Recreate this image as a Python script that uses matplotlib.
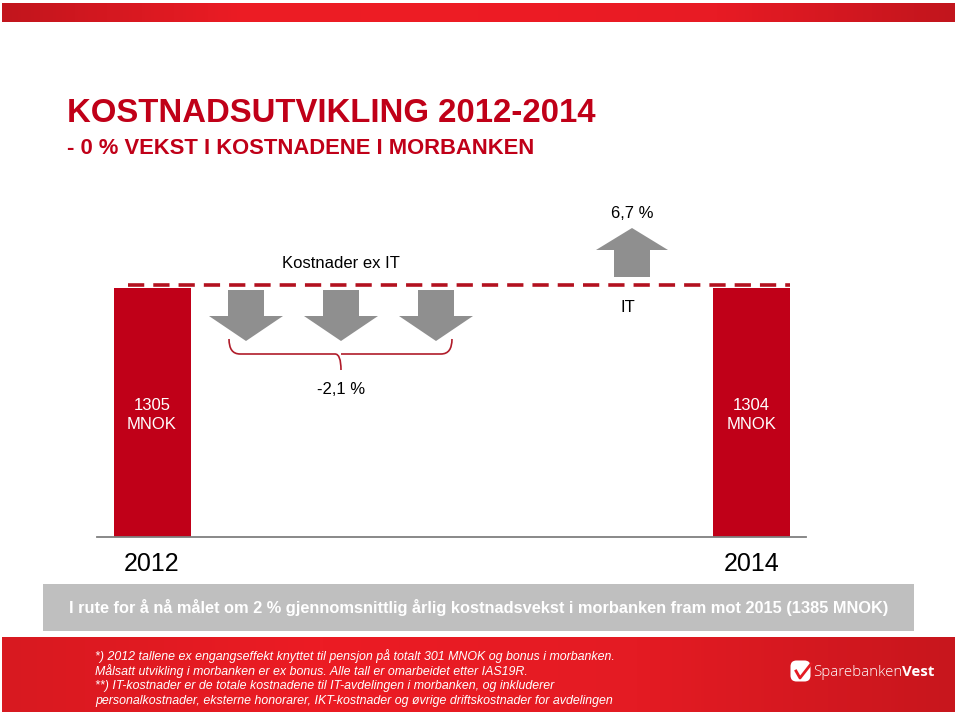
import numpy as np
import matplotlib
matplotlib.use("Agg")
import matplotlib.pyplot as plt
from matplotlib.colors import LinearSegmentedColormap
from matplotlib.patches import Rectangle, Polygon, FancyBboxPatch, PathPatch
from matplotlib.path import Path

# data
years = ["2012", "2014"]
kostnader = [1305, 1304]
endring_ex_it = "-2,1 %"
endring_it = "6,7 %"

tittel = "KOSTNADSUTVIKLING 2012-2014"
undertittel = "- 0 % VEKST I KOSTNADENE I MORBANKEN"
boks_tekst = "I rute for å nå målet om 2 % gjennomsnittlig årlig kostnadsvekst i morbanken fram mot 2015 (1385 MNOK)"
fotnoter = [
    "*) 2012 tallene ex engangseffekt knyttet til pensjon på totalt 301 MNOK og bonus i morbanken.",
    "Målsatt utvikling i morbanken er ex bonus. Alle tall er omarbeidet etter IAS19R.",
    "**) IT-kostnader er de totale kostnadene til IT-avdelingen i morbanken, og inkluderer",
    "personalkostnader, eksterne honorarer, IKT-kostnader og øvrige driftskostnader for avdelingen",
]

rod = "#c00018"
gra = "#8f8f8f"
plt.rcParams["font.family"] = ["Liberation Sans", "DejaVu Sans"]

W, H = 960, 712
fig = plt.figure(figsize=(W / 100, H / 100), dpi=100)
fig.patch.set_facecolor("white")

# stolpeakse
x0, x1, ybase, ytop = 97, 806, 537, 200
ax = fig.add_axes([x0 / W, (H - ybase) / H, (x1 - x0) / W, (ybase - ytop) / H])
ax.set_facecolor("none")
pos = np.arange(len(years))
ax.bar(pos, kostnader, width=77 / 599.5, color=rod)
ax.set_xlim(-55 / 599.5, (x1 - x0 - 55) / 599.5)
ax.set_ylim(0, kostnader[0] * (ybase - ytop) / (ybase - 288))
for s in ["top", "left", "right"]:
    ax.spines[s].set_visible(False)
ax.spines["bottom"].set_color("#7f7f7f")
ax.spines["bottom"].set_linewidth(1.3)
ax.set_yticks([])
ax.set_xticks(pos, years)
ax.tick_params(axis="x", length=0, pad=11, labelsize=18)
for i, v in enumerate(kostnader):
    ax.text(i, v * 0.49, f"{v}\nMNOK", ha="center", va="center", color="white",
            fontsize=12, linespacing=1.4)

# overlay i piksler
ov = fig.add_axes([0, 0, 1, 1], zorder=3)
ov.set_facecolor("none")
ov.set_xlim(0, W)
ov.set_ylim(H, 0)
ov.axis("off")

grad = LinearSegmentedColormap.from_list("g", ["#c2151d", "#ec1c24", "#ee1c25", "#e81b24", "#c2151d"])
g = np.linspace(0, 1, 300).reshape(1, -1)
ov.imshow(g, cmap=grad, extent=[2, 955, 22, 3], aspect="auto")
grad2 = LinearSegmentedColormap.from_list("g2", ["#d81920", "#ec1c24", "#e41b23", "#c8161d"])
ov.imshow(g, cmap=grad2, extent=[2, 955, 712, 637], aspect="auto")

ov.text(67, 113, tittel, color=rod, fontsize=23.7, fontweight="bold", va="center")
ov.text(67, 148, undertittel, color=rod, fontsize=15.8, fontweight="bold", va="center")

# stiplet linje
ov.plot([128, 790], [285, 285], color="#b3111f", lw=2.6, dashes=(4.5, 2.5))

# piler ned
for cx in [246, 341, 436]:
    ov.add_patch(Polygon([(cx - 18, 290), (cx + 18, 290), (cx + 18, 316), (cx + 37, 316),
                          (cx, 341), (cx - 37, 316), (cx - 18, 316)], closed=True, color=gra, lw=0))
# pil opp
cx = 632
ov.add_patch(Polygon([(cx - 18, 277), (cx + 18, 277), (cx + 18, 250), (cx + 36, 250),
                      (cx, 228), (cx - 36, 250), (cx - 18, 250)], closed=True, color=gra, lw=0))

# klammeparentes
verts = [(229, 339), (229, 354), (240, 354), (335, 354), (341, 354), (341, 370),
         (341, 354), (347, 354), (441, 354), (452, 354), (452, 339)]
codes = [Path.MOVETO, Path.CURVE3, Path.CURVE3, Path.LINETO, Path.CURVE3, Path.CURVE3,
         Path.MOVETO, Path.CURVE3, Path.LINETO, Path.CURVE3, Path.CURVE3]
ov.add_patch(PathPatch(Path(verts, codes), fill=False, edgecolor="#b01c2a", lw=1.2))

ov.text(341, 264, "Kostnader ex IT", ha="center", va="center", fontsize=12)
ov.text(632, 214, endring_it, ha="center", va="center", fontsize=12)
ov.text(628, 307, "IT", ha="center", va="center", fontsize=12)
ov.text(341, 389, endring_ex_it, ha="center", va="center", fontsize=12)

# grå boks
ov.add_patch(Rectangle((43, 584), 871, 47, color="#bfbfbf", lw=0))
ov.text(479, 607, boks_tekst, ha="center", va="center", color="white", fontsize=11.8,
        fontweight="bold")

# fotnoter
for k, linje in enumerate(fotnoter):
    ov.text(95, 656 + 15 * k, linje, ha="left", va="center", color="white", fontsize=8.9,
            style="italic")

# logo
ov.add_patch(FancyBboxPatch((792, 662), 17, 18, boxstyle="round,pad=1.5,rounding_size=6",
                            color="white", lw=0))
ov.plot([796, 800, 811], [671, 678, 664], color="#e41b23", lw=2)
t = ov.text(813, 672, "Sparebanken", ha="left", va="center", color="white", fontsize=10.8,
            fontweight="light", family=["Open Sans", "DejaVu Sans"])
ov.annotate("Vest", xy=(1, 0.5), xycoords=t, ha="left", va="center", color="white",
            fontsize=10.8, fontweight="bold", family=["Open Sans", "DejaVu Sans"])

fig.savefig("out.png", dpi=100)
